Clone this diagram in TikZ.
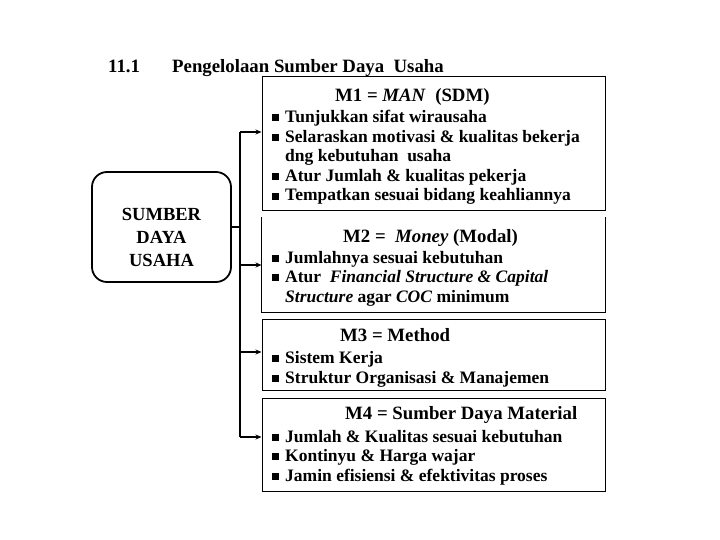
\documentclass[tikz,border=0pt]{standalone}
\usepackage{fontspec}
\setmainfont{Liberation Serif}
\usetikzlibrary{arrows.meta}
\newcommand{\bsq}{\makebox[13pt][l]{\rule[1.5pt]{7pt}{7pt}}}
\begin{document}
\begin{tikzpicture}[x=1pt,y=-1pt,
  box/.style={line width=1pt},
  txt/.style={anchor=base west, inner sep=0pt, font=\fontsize{17.5}{19}\selectfont\bfseries},
  head/.style={anchor=base west, inner sep=0pt, font=\fontsize{18.8}{21}\selectfont\bfseries},
  conn/.style={line width=2pt},
  arr/.style={line width=2pt, -{Stealth[length=6pt,width=5pt]}}]
\useasboundingbox (0,0) rectangle (720,540);

% title
\node[head] (num) at (108,73) {11.1};
\node[head] (ttl) at (172,73) {Pengelolaan Sumber Daya\ \ Usaha};

% source box
\node[draw, line width=1.8pt, rounded corners=15pt, minimum width=139pt, minimum height=110pt, inner sep=0pt] (src) at (161.5,227) {};
\node[align=center, inner sep=0pt, font=\fontsize{18.5}{23}\selectfont\bfseries] (srct) at (161.5,237) {SUMBER\\DAYA\\USAHA};

% boxes
\node[draw, box, minimum width=343pt, minimum height=134pt, inner sep=0pt] (m1) at (433.5,144) {};
\node[box, minimum width=343pt, minimum height=94pt, inner sep=0pt] (m2) at (433.5,265) {};
\draw[box] (m2.north west) -- (m2.south west) -- (m2.south east) -- (m2.north east);
\node[draw, box, minimum width=343pt, minimum height=71pt, inner sep=0pt] (m3) at (433.5,354.5) {};
\node[draw, box, minimum width=343pt, minimum height=93pt, inner sep=0pt] (m4) at (433.5,444.5) {};

% M1 text
\node[head] (m1h) at (335,102) {M1 = \textit{MAN}\ \ (SDM)};
\node[txt] (m1a) at (272,123) {\bsq Tunjukkan sifat wirausaha};
\node[txt] (m1b) at (272,142.5) {\bsq Selaraskan motivasi \& kualitas bekerja};
\node[txt] (m1c) at (285,162) {dng kebutuhan\ \ usaha};
\node[txt] (m1d) at (272,181.5) {\bsq Atur Jumlah \& kualitas pekerja};
\node[txt] (m1e) at (272,201) {\bsq Tempatkan sesuai bidang keahliannya};

% M2 text
\node[head] (m2h) at (343,242) {M2 =\ \ \textit{Money} (Modal)};
\node[txt] (m2a) at (272,263) {\bsq Jumlahnya sesuai kebutuhan};
\node[txt] (m2b) at (272,282.5) {\bsq Atur\ \ \textit{Financial Structure \& Capital}};
\node[txt] (m2c) at (285,302) {\textit{Structure} agar \textit{COC} minimum};

% M3 text
\node[head] (m3h) at (340,341) {M3 = Method};
\node[txt] (m3a) at (272,363) {\bsq Sistem Kerja};
\node[txt] (m3b) at (272,383) {\bsq Struktur Organisasi \& Manajemen};

% M4 text
\node[head] (m4h) at (345,419) {M4 = Sumber Daya Material};
\node[txt] (m4a) at (272,442) {\bsq Jumlah \& Kualitas sesuai kebutuhan};
\node[txt] (m4b) at (272,461.5) {\bsq Kontinyu \& Harga wajar};
\node[txt] (m4c) at (272,481) {\bsq Jamin efisiensi \& efektivitas proses};

% connectors
\coordinate (bus) at (240,227);
\coordinate (j1) at (240,132);
\coordinate (j2) at (240,265);
\coordinate (j3) at (240,352);
\coordinate (j4) at (240,437);
\draw[conn] (src.east) -- (bus);
\draw[conn] (j1) -- (j4);
\draw[arr] (j1) -- (j1 -| m1.west);
\draw[arr] (j2) -- (j2 -| m2.west);
\draw[arr] (j3) -- (j3 -| m3.west);
\draw[arr] (j4) -- (j4 -| m4.west);
\end{tikzpicture}
\end{document}
